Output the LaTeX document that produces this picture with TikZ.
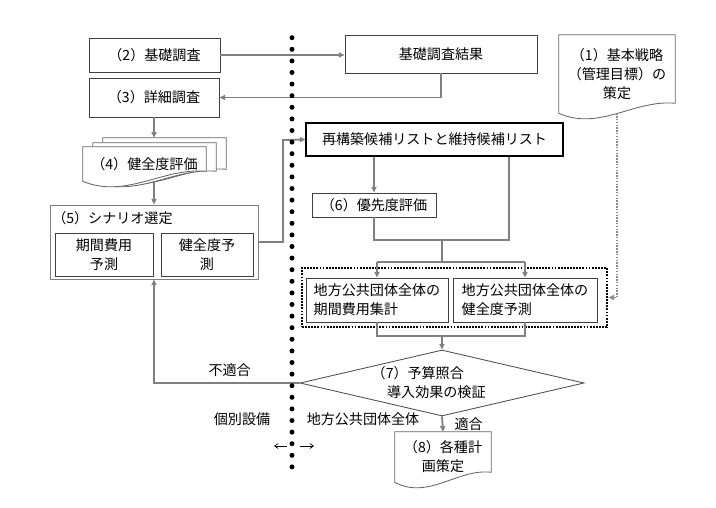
\documentclass[tikz,border=0pt]{standalone}
\usepackage{fontspec}
\setmainfont{Noto Sans CJK JP}
\usetikzlibrary{arrows.meta,shapes.geometric,calc,backgrounds}

% document shape drawn round a node
\newcommand{\docshape}[2][]{%
  \draw[docline,#1] (#2.south west) -- (#2.north west) -- (#2.north east)
    -- ($(#2.south east)+(0,-10)$)
    .. controls ($(#2.south west)!0.65!(#2.south east)+(0,-14)$)
    and ($(#2.south west)!0.35!(#2.south east)+(0,18)$) .. (#2.south west) -- cycle;}

\begin{document}
\begin{tikzpicture}[x=0.025cm,y=-0.025cm,>={Triangle[length=4pt,width=3.6pt]},
  font=\fontsize{10pt}{13.5pt}\selectfont]
\tikzset{
  sz/.style 2 args={minimum width=#1*0.025cm,minimum height=#2*0.025cm},
  box/.style={draw=black!75,line width=0.6pt,inner sep=0pt,align=center},
  docnode/.style={inner sep=0pt,align=center},
  docline/.style={draw=black!60,line width=0.6pt},
  conn/.style={draw=black!50,line width=1.3pt},
  dotconn/.style={draw=black!45,line width=1.3pt,dash pattern=on 1pt off 1pt},
  smallarr/.style={draw=black,line width=0.5pt,-{Straight Barb[length=2.5pt,width=3.5pt]}},
  tag/.style={inner sep=0pt}
}
\useasboundingbox (0,0) rectangle (716,507);

% left column
\node[box,sz={131}{34}] (kiso2) at (154.5,55) {（2）基礎調査};
\node[box,sz={130}{39}] (shosai3) at (154,97.5) {（3）詳細調査};
\node[docnode,sz={123}{41}] (kenzenback) at (164.5,158.5) {};
\node[docnode,sz={123}{38}] (kenzenmid) at (154.5,162) {};
\node[docnode,sz={123}{34}] (kenzen4) at (144.5,164) {（4）健全度評価};
\node[box,draw=black!50,sz={208}{74}] (scenario5) at (154,242) {};
\node[tag,anchor=west] (title5) at (52,218) {（5）シナリオ選定};
\node[box,sz={98}{43}] (kikan) at (104,254.5) {期間費用\\予測};
\node[box,sz={92}{43}] (kenzenyosoku) at (207,254.5) {健全度予\\測};

% right column
\node[box,sz={192}{38}] (kekka) at (441,54) {基礎調査結果};
\node[docnode,sz={116}{78}] (kihon1) at (617,74) {（1）基本戦略\\（管理目標）の\\策定};
\node[box,draw=black,line width=0.8pt,sz={257}{33}] (saikouchiku) at (434.5,139.5) {再構築候補リストと維持候補リスト};
\node[box,sz={124}{24}] (yusen6) at (374,205) {（6）優先度評価};
\node[draw=black,line width=2pt,dash pattern=on 1.3pt off 0.9pt,sz={305}{59}] (group) at (454.5,297.5) {};
\node[box,align=left,sz={142}{44}] (hiyoshukei) at (377,300) {地方公共団体全体の\\期間費用集計};
\node[box,align=left,sz={144}{44}] (kenzenzentai) at (525,300) {地方公共団体全体の\\健全度予測};
\node[diamond,draw=black!70,line width=0.6pt,inner sep=0pt,shape aspect=4.3,sz={284}{66},align=left] (yosan7) at (442,383)
  {（7）予算照合\\\hspace*{11pt}導入効果の検証\hspace*{19pt}};
\node[docnode,sz={96}{50}] (gokaku8) at (443,457) {（8）各種計\\画策定};

\node[tag] (kobetsu) at (242,419) {個別設備};
\node[tag] (zentai) at (363,419) {地方公共団体全体};

\begin{scope}[on background layer]
  \docshape[fill=white]{kenzenback}
  \docshape[fill=white]{kenzenmid}
  \docshape[fill=white]{kenzen4}
  \docshape{kihon1}
  \docshape{gokaku8}
\end{scope}

\coordinate (turn5) at (283,140);
\coordinate (join6) at (442,240);
\coordinate (listR) at (509,0 |- saikouchiku.south);
\coordinate (split6) at (442,262);
\coordinate (join7) at (442,336);

\draw[conn,->] (kiso2.east) -- (kiso2.east -| kekka.west);
\draw[conn,->] (kekka.south) |- (shosai3.east);
\draw[conn,->] (shosai3.south) -- (shosai3.south |- kenzenback.north);
\draw[conn,->] (shosai3.south |- kenzen4.south) -- (shosai3.south |- scenario5.north);
\draw[conn,->] (scenario5.east) -| (turn5) -- (saikouchiku.west);
\draw[conn,->] (saikouchiku.south -| yusen6.north) -- (yusen6.north);
\draw[conn] (yusen6.south) |- (join6) -| (listR);
\draw[conn] (join6) -- (split6);
\draw[conn] (split6 -| hiyoshukei.north) -- (split6 -| kenzenzentai.north);
\draw[conn,->] (split6 -| hiyoshukei.north) -- (hiyoshukei.north);
\draw[conn,->] (split6 -| kenzenzentai.north) -- (kenzenzentai.north);
\draw[conn] (hiyoshukei.south) |- (join7) -| (kenzenzentai.south);
\draw[conn,->] (join7) -- (yosan7.north);
\draw[conn,->] (yosan7.west) -| node[tag,above=4pt,pos=0.24] (futekigo) {不適合} (scenario5.south);
\draw[conn,->] (yosan7.south) -- node[tag,right=8pt] (tekigo) {適合} (gokaku8.north);
\draw[dotconn,->] (kihon1.south) |- (group.east);

% boundary between single facility and whole
\foreach \i in {0,...,37}
  \fill (292,37.7+\i*11.6) circle[radius=2.5];
\coordinate (arrL) at (287,446);
\coordinate (arrLend) at (274,446);
\coordinate (arrR) at (300,446);
\coordinate (arrRend) at (314,446);
\draw[smallarr] (arrL) -- (arrLend);
\draw[smallarr] (arrR) -- (arrRend);
\end{tikzpicture}
\end{document}
